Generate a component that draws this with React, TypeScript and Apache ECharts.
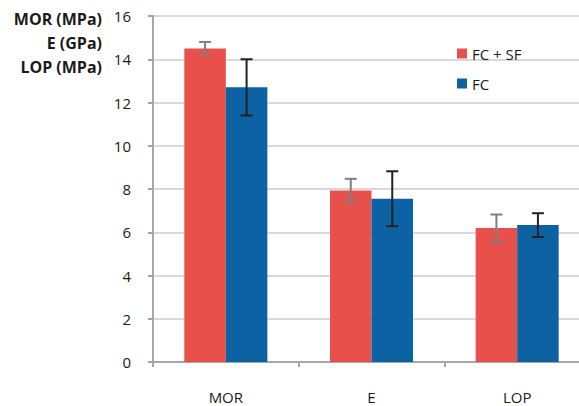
import React, { useEffect, useRef } from "react";
import * as echarts from "echarts";

const categories = ["MOR", "E", "LOP"];
const seriesNames = ["FC + SF", "FC"];
const fcsfValues = [14.5, 7.93, 6.2];
const fcsfErrors = [0.3, 0.54, 0.62];
const fcValues = [12.7, 7.55, 6.33];
const fcErrors = [1.3, 1.27, 0.55];
const yTicks = [0, 2, 4, 6, 8, 10, 12, 14, 16];
const yTitleLines = ["MOR (MPa)", "E (GPa)", "LOP (MPa)"];

const RED = "#E8504B";
const BLUE = "#0C62A3";
const CAT_GAP = 0.43;

function errorSeries(values: number[], errs: number[], seriesIdx: number, color: string) {
  return {
    type: "custom",
    name: seriesNames[seriesIdx] + " err",
    z: 10,
    silent: true,
    data: values.map((v, i) => [i, v - errs[i], v + errs[i]]),
    renderItem: (params: any, api: any) => {
      const idx = api.value(0);
      const lo = api.coord([idx, api.value(1)]);
      const hi = api.coord([idx, api.value(2)]);
      const band = api.size([1, 0])[0];
      const bw = (band * (1 - CAT_GAP)) / 2;
      const x = lo[0] + (seriesIdx === 0 ? -bw / 2 : bw / 2);
      const cap = 6;
      const style = { stroke: color, lineWidth: 2 };
      return {
        type: "group",
        children: [
          { type: "line", shape: { x1: x, y1: lo[1], x2: x, y2: hi[1] }, style },
          { type: "line", shape: { x1: x - cap, y1: hi[1], x2: x + cap, y2: hi[1] }, style },
          { type: "line", shape: { x1: x - cap, y1: lo[1], x2: x + cap, y2: lo[1] }, style },
        ],
      };
    },
  };
}

export default function App() {
  const ref = useRef<HTMLDivElement>(null);
  useEffect(() => {
    if (!ref.current) return;
    const chart = echarts.init(ref.current, undefined, { renderer: "svg" });
    const font = "Open Sans";
    chart.setOption({
      animation: false,
      textStyle: { fontFamily: font },
      grid: { left: 153, top: 16, bottom: 44, width: 437, containLabel: false },
      legend: {
        orient: "vertical",
        left: 452,
        top: 41,
        itemWidth: 10,
        itemHeight: 10,
        itemGap: 15,
        icon: "rect",
        data: seriesNames,
        textStyle: { fontSize: 15, color: "#1a1a1a", fontFamily: font },
      },
      graphic: yTitleLines.map((t, i) => ({
        type: "text",
        x: 102,
        y: 11 + i * 24,
        style: { text: t, font: `bold 16px ${font}`, fill: "#1a1a1a", textAlign: "right", textVerticalAlign: "top" },
      })),
      xAxis: {
        type: "category",
        data: categories,
        axisLine: { lineStyle: { color: "#a6a6a6", width: 2 } },
        axisTick: { show: true, length: 5, lineStyle: { color: "#a6a6a6", width: 2 } },
        axisLabel: { margin: 27, fontSize: 15, color: "#1a1a1a", fontFamily: font },
      },
      yAxis: {
        type: "value",
        min: 0,
        max: 16,
        interval: 2,
        axisLine: { show: true, lineStyle: { color: "#a6a6a6", width: 2 } },
        axisTick: { show: true, length: 5, lineStyle: { color: "#a6a6a6", width: 2 } },
        axisLabel: { margin: 22, fontSize: 15, color: "#1a1a1a", fontFamily: font,
          formatter: (v: number) => (yTicks.includes(v) ? String(v) : "") },
        splitLine: { show: true, lineStyle: { color: "#d9d9d9", width: 2 } },
      },
      series: [
        { type: "bar", name: seriesNames[0], data: fcsfValues, itemStyle: { color: RED },
          barGap: "0%", barCategoryGap: CAT_GAP * 100 + "%" },
        { type: "bar", name: seriesNames[1], data: fcValues, itemStyle: { color: BLUE },
          barGap: "0%", barCategoryGap: CAT_GAP * 100 + "%" },
        errorSeries(fcsfValues, fcsfErrors, 0, "#7f7f7f"),
        errorSeries(fcValues, fcErrors, 1, "#222222"),
      ],
    });
    return () => chart.dispose();
  }, []);
  return (
    <div style={{ position: "absolute", left: 0, top: 0, width: 579, height: 406, overflow: "hidden" }}>
      <div ref={ref} style={{ width: 600, height: 406 }} />
    </div>
  );
}
